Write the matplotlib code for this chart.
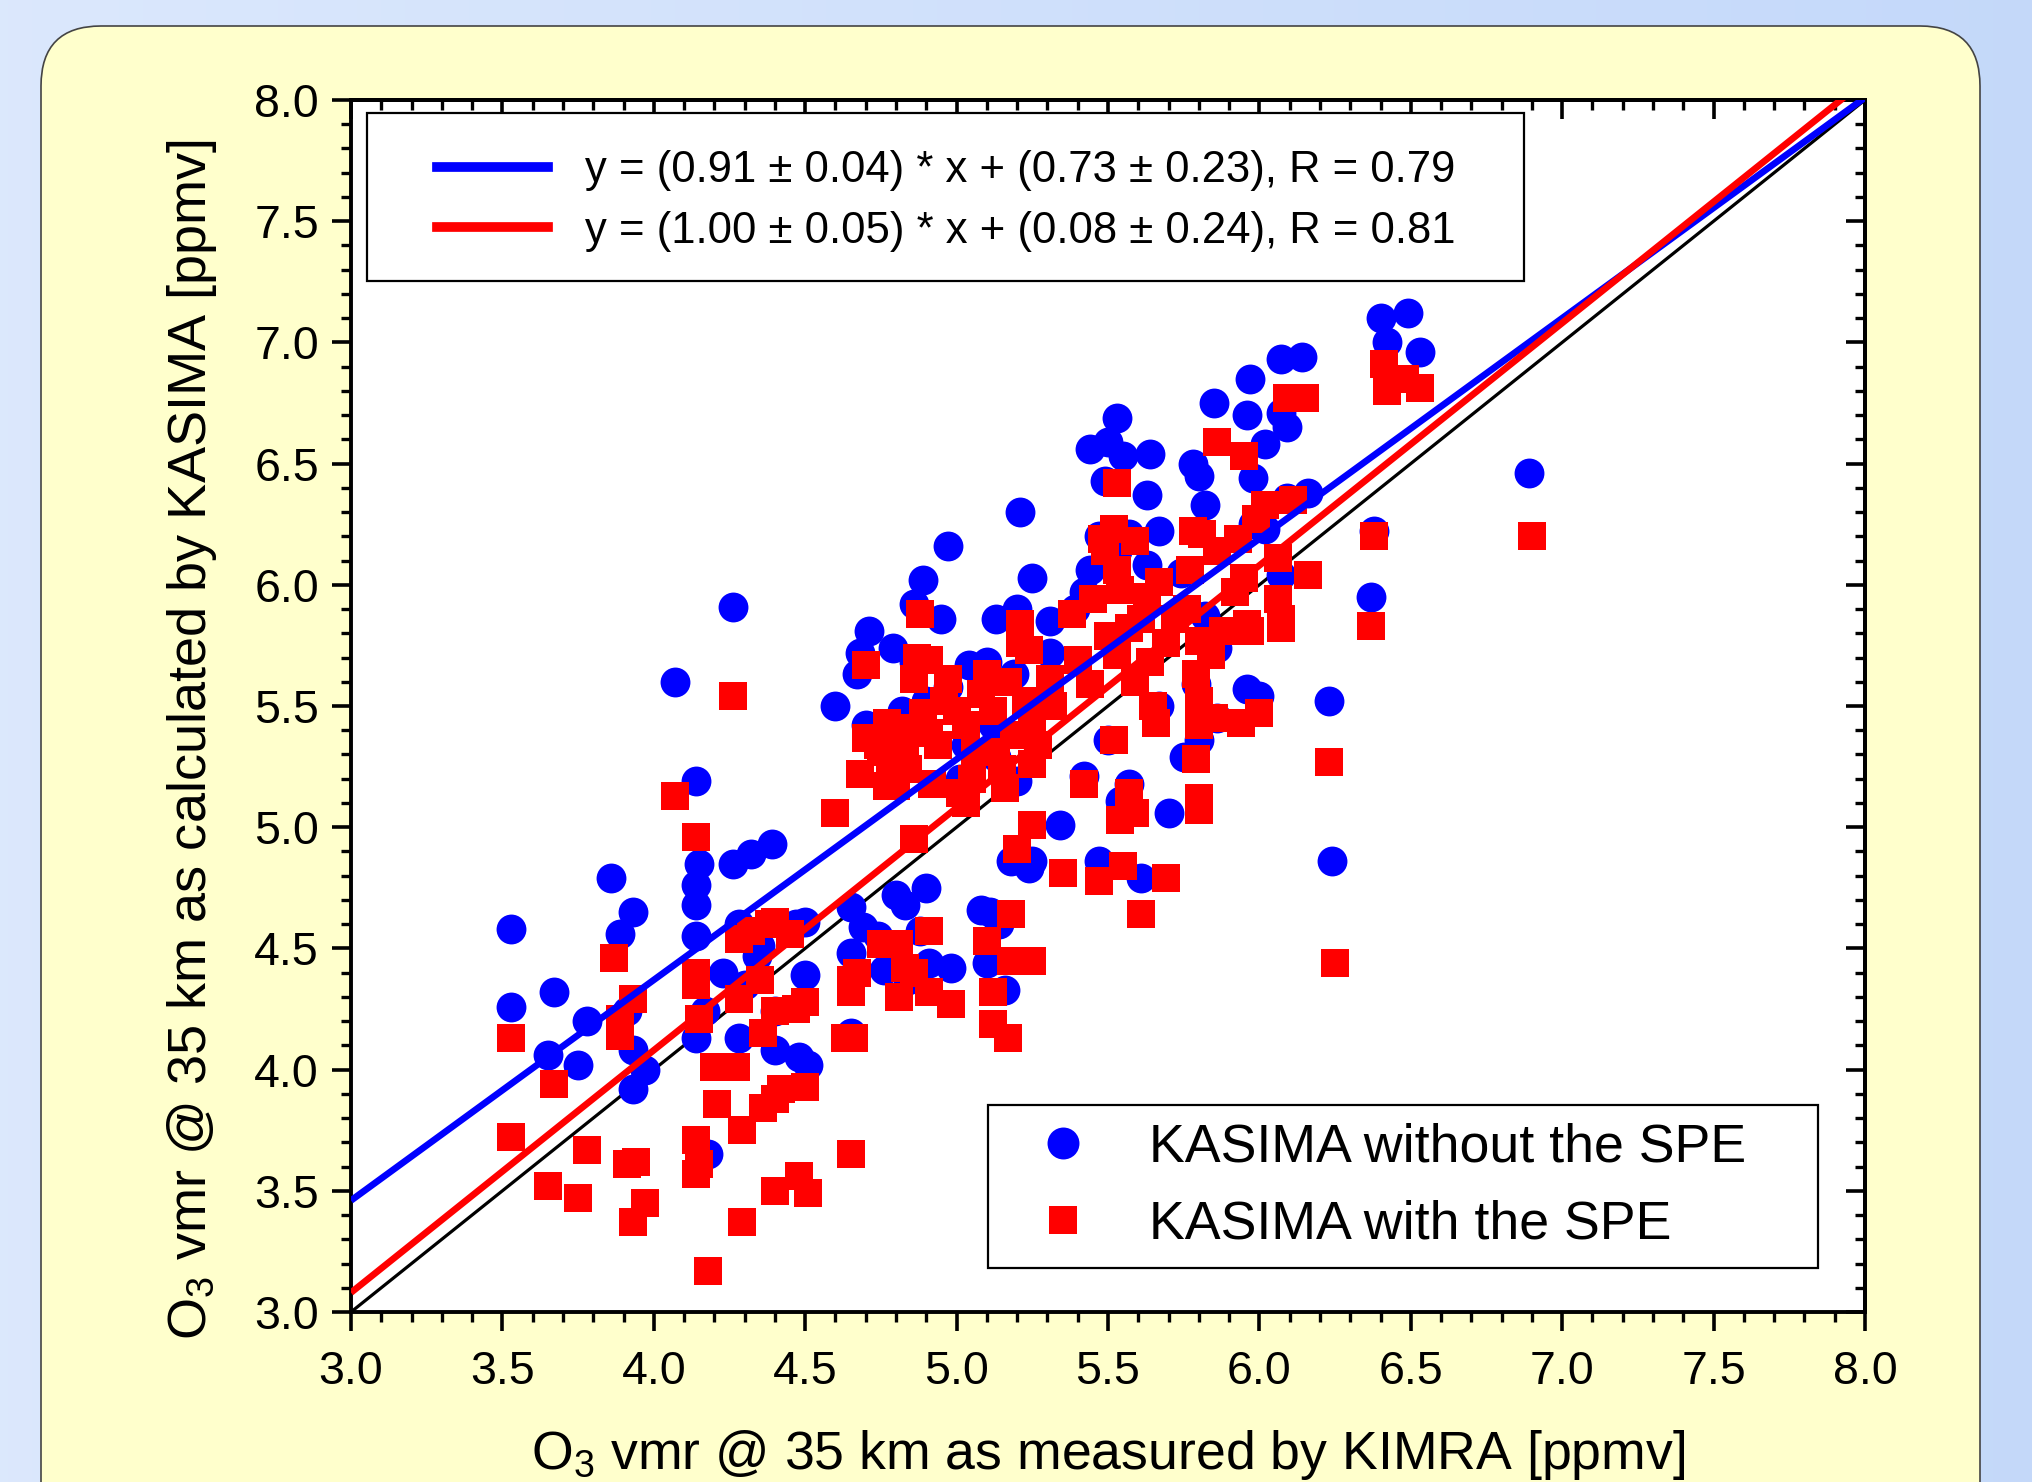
import numpy as np
import matplotlib
matplotlib.use('Agg')
import matplotlib.pyplot as plt
from matplotlib.patches import FancyBboxPatch, Rectangle
from matplotlib.lines import Line2D
from matplotlib.ticker import MultipleLocator

plt.rcParams['font.family'] = ['Liberation Sans', 'DejaVu Sans']
plt.rcParams['mathtext.fontset'] = 'custom'
plt.rcParams['mathtext.rm'] = 'Liberation Sans'

# KASIMA without the SPE (blue circles): KIMRA x, KASIMA y
no_spe_x = [3.53, 3.53, 3.67, 3.65, 3.75, 3.78, 3.86, 3.89, 3.93, 3.91, 3.93, 3.93, 3.97,
            4.07, 4.14, 4.14, 4.14, 4.15, 4.14, 4.14, 4.17, 4.18, 4.26, 4.26, 4.32, 4.39,
            4.23, 4.28, 4.30, 4.34, 4.35, 4.28, 4.40, 4.40, 4.48, 4.51, 4.50, 4.50, 4.47,
            4.60, 4.67, 4.71, 4.70, 4.68, 4.79, 4.82, 4.86, 4.89, 4.97, 4.95, 4.86, 4.90,
            4.97, 5.04, 5.10, 5.13, 5.20, 5.21, 5.25, 5.19, 5.12, 5.03, 5.01, 5.20, 4.65,
            4.65, 4.69, 4.74, 4.80, 4.83, 4.90, 4.88, 4.91, 4.98, 4.84, 4.76, 5.08, 5.11,
            5.14, 5.10, 5.16, 5.18, 5.25, 5.24, 5.13, 5.34, 4.65,
            5.31, 5.31, 5.39, 5.42, 5.44, 5.44, 5.50, 5.53, 5.55, 5.49, 5.63, 5.64, 5.47,
            5.53, 5.57, 5.67, 5.63, 5.42, 5.50, 5.57, 5.54, 5.47, 5.61, 5.67, 5.70, 5.75,
            5.80, 5.78, 5.80, 5.85, 5.82, 5.97, 5.96, 5.98, 6.02, 5.98, 6.07, 6.07, 6.09,
            6.14, 6.16, 6.09, 6.02, 6.07, 5.96, 6.00, 5.79, 5.86, 5.82, 5.74, 5.86,
            6.23, 6.24, 6.37, 6.38, 6.40, 6.42, 6.49, 6.53, 6.89]
no_spe_y = [4.58, 4.26, 4.32, 4.06, 4.02, 4.20, 4.79, 4.56, 4.65, 4.24, 4.08, 3.92, 4.00,
            5.60, 5.19, 4.68, 4.76, 4.85, 4.55, 4.13, 4.24, 3.65, 5.91, 4.85, 4.89, 4.93,
            4.40, 4.60, 4.35, 4.47, 4.51, 4.13, 4.24, 4.08, 4.05, 4.02, 4.39, 4.61, 4.60,
            5.50, 5.63, 5.81, 5.42, 5.72, 5.74, 5.48, 5.92, 6.02, 6.16, 5.86, 5.68, 5.52,
            5.58, 5.67, 5.68, 5.86, 5.90, 6.30, 6.03, 5.63, 5.42, 5.34, 5.20, 5.19, 4.48,
            4.67, 4.59, 4.55, 4.72, 4.68, 4.75, 4.57, 4.44, 4.42, 4.37, 4.41, 4.66, 4.65,
            4.60, 4.44, 4.33, 4.86, 4.86, 4.83, 5.29, 5.01, 4.15,
            5.85, 5.72, 5.90, 5.97, 6.06, 6.56, 6.59, 6.69, 6.53, 6.43, 6.37, 6.54, 6.20,
            6.14, 6.21, 6.22, 6.08, 5.21, 5.36, 5.18, 5.11, 4.86, 4.79, 5.50, 5.06, 5.29,
            5.36, 6.50, 6.45, 6.75, 6.33, 6.85, 6.70, 6.44, 6.58, 6.25, 6.93, 6.71, 6.65,
            6.94, 6.38, 6.36, 6.23, 6.04, 5.57, 5.54, 5.59, 5.74, 5.87, 6.05, 5.45,
            5.52, 4.86, 5.95, 6.22, 7.10, 7.00, 7.12, 6.96, 6.46]

# KASIMA with the SPE (red squares)
spe_x = [3.53, 3.53, 3.65, 3.67, 3.75, 3.78, 3.87, 3.89, 3.89, 3.93, 3.91, 3.93, 3.94, 3.97,
         4.07, 4.14, 4.14, 4.14, 4.15, 4.14, 4.14, 4.15, 4.18, 4.21, 4.20, 4.26, 4.27, 4.29,
         4.29, 4.28, 4.28, 4.32, 4.35, 4.36, 4.40, 4.40, 4.38, 4.36, 4.40, 4.42, 4.40, 4.45,
         4.47, 4.50, 4.50, 4.48, 4.51, 4.60, 4.65, 4.63, 4.66, 4.65, 4.65, 4.67, 4.68, 4.70,
         4.70, 4.74, 4.77, 4.75, 4.78, 4.81, 4.83, 4.77, 4.80, 4.84, 4.86, 4.88, 4.87, 4.91,
         4.89, 4.91, 4.94, 4.92, 4.97, 4.96, 5.00, 5.01, 5.03, 5.05, 5.06, 5.08, 5.12, 5.13,
         5.15, 5.16, 5.19, 5.21, 5.21, 5.24, 5.23, 5.25, 5.27, 5.25, 5.10, 5.17, 5.03, 4.86,
         4.86, 4.75, 4.81, 4.83, 4.81, 4.91, 4.91, 4.98, 4.86, 5.10, 5.12, 5.12, 5.17, 5.18,
         5.20, 5.25, 5.25, 5.18, 5.35,
         5.32, 5.31, 5.38, 5.40, 5.44, 5.48, 5.49, 5.52, 5.53, 5.59, 5.54, 5.45, 5.50, 5.53,
         5.57, 5.61, 5.63, 5.67, 5.64, 5.59, 5.53, 5.52, 5.42, 5.57, 5.59, 5.54, 5.55, 5.47,
         5.61, 5.69, 5.65, 5.66, 5.69, 5.72, 5.76, 5.78, 5.77, 5.81, 5.84, 5.86, 5.86, 5.80,
         5.79, 5.80, 5.80, 5.79, 5.80, 5.80, 5.85, 5.88, 5.92, 5.93, 5.95, 5.95, 5.96, 5.97,
         5.94, 6.00, 5.99, 6.02, 6.06, 6.06, 6.07, 6.07, 6.09, 6.15, 6.11, 6.16,
         6.23, 6.25, 6.37, 6.38, 6.41, 6.42, 6.48, 6.53, 6.90]
spe_y = [4.13, 3.72, 3.52, 3.94, 3.47, 3.67, 4.46, 4.21, 4.14, 4.29, 3.61, 3.37, 3.62, 3.45,
         5.13, 4.96, 4.40, 4.35, 4.21, 3.71, 3.57, 3.61, 3.17, 3.86, 4.01, 5.54, 4.01, 3.75,
         3.37, 4.29, 4.54, 4.57, 4.37, 4.15, 4.24, 4.61, 4.60, 3.84, 3.88, 3.92, 3.50, 4.56,
         4.25, 4.28, 3.93, 3.56, 3.49, 5.06, 3.65, 4.13, 4.13, 4.37, 4.32, 4.40, 5.22, 5.67,
         5.37, 5.34, 5.43, 5.31, 5.26, 5.36, 5.30, 5.17, 5.17, 5.24, 5.41, 5.88, 5.70, 5.69,
         5.47, 5.39, 5.34, 5.18, 5.61, 5.52, 5.48, 5.14, 5.10, 5.20, 5.31, 5.55, 5.48, 5.31,
         5.24, 5.16, 5.38, 5.76, 5.84, 5.73, 5.52, 5.43, 5.34, 5.26, 5.63, 5.60, 5.42, 5.61,
         4.95, 4.52, 4.52, 4.42, 4.30, 4.57, 4.32, 4.27, 4.40, 4.53, 4.32, 4.19, 4.13, 4.64,
         4.91, 5.01, 4.45, 4.45, 4.81,
         5.50, 5.61, 5.88, 5.69, 5.59, 6.19, 6.14, 6.23, 6.06, 6.18, 5.98, 5.94, 5.79, 5.71,
         5.82, 5.86, 5.95, 6.01, 5.68, 5.60, 6.42, 5.36, 5.18, 5.14, 5.06, 5.03, 4.84, 4.78,
         4.64, 4.79, 5.50, 5.43, 5.76, 5.86, 5.90, 6.22, 6.06, 6.21, 5.71, 6.59, 6.14, 5.77,
         5.63, 5.52, 5.42, 5.28, 5.12, 5.07, 5.45, 5.81, 5.97, 6.19, 6.53, 6.03, 5.84, 5.81,
         5.43, 5.47, 6.27, 6.33, 6.11, 5.94, 5.86, 5.82, 6.77, 6.77, 6.35, 6.04,
         5.27, 4.44, 5.83, 6.20, 6.91, 6.80, 6.85, 6.81, 6.20]

# linear fits given in the legend
fit_slope = [0.91, 1.00]
fit_offset = [0.73, 0.08]
fit_labels = [u'y = (0.91 \u00b1 0.04) * x + (0.73 \u00b1 0.23), R = 0.79',
              u'y = (1.00 \u00b1 0.05) * x + (0.08 \u00b1 0.24), R = 0.81']
series_labels = ['KASIMA without the SPE', 'KASIMA with the SPE']
line_cols = ['#0000ff', '#ff0000']

W, H = 2033, 1482
fig = plt.figure(figsize=(W / 100, H / 100), dpi=100)

# bluish background with a soft horizontal gradient
bg = fig.add_axes([0, 0, 1, 1], zorder=-10)
grad = np.linspace(0, 1, 256)[None, :]
c0 = np.array([0.86, 0.91, 0.99])
c1 = np.array([0.77, 0.85, 0.98])
img = c0[None, None, :] * (1 - grad[..., None]) + c1[None, None, :] * grad[..., None]
bg.imshow(img, aspect='auto', extent=[0, 1, 0, 1])
bg.set_axis_off()

# yellow rounded panel
panel = FancyBboxPatch((0.41, -1.0), 19.39, 15.56,
                       boxstyle='round,pad=0,rounding_size=0.6',
                       transform=fig.dpi_scale_trans,
                       facecolor='#ffffcc', edgecolor='#444444', linewidth=1.2,
                       zorder=-5)
fig.patches.append(panel)

ax = fig.add_axes([351 / W, 1 - 1312 / H, 1514 / W, 1212 / H])
ax.set_facecolor('white')
ax.set_xlim(3, 8)
ax.set_ylim(3, 8)

ax.plot([3, 8], [3, 8], color='black', lw=2.3, zorder=1)
ax.scatter(no_spe_x, no_spe_y, s=21.5 ** 2, marker='o', color='#0000ff',
           linewidths=0, zorder=2)
ax.scatter(spe_x, spe_y, s=19.5 ** 2, marker='s', color='#ff0000',
           linewidths=0, zorder=3)
xx = np.array([3, 8])
for slope, off, col in zip(fit_slope, fit_offset, line_cols):
    ax.plot(xx, slope * xx + off, color=col, lw=4.8, zorder=4, solid_capstyle='butt')

for sp in ax.spines.values():
    sp.set_linewidth(2.8)

ax.xaxis.set_major_locator(MultipleLocator(0.5))
ax.xaxis.set_minor_locator(MultipleLocator(0.1))
ax.yaxis.set_major_locator(MultipleLocator(0.5))
ax.yaxis.set_minor_locator(MultipleLocator(0.1))
ax.tick_params(which='major', direction='out', length=14, width=2.6, labelsize=33.5)
ax.tick_params(which='minor', direction='out', length=7, width=2.4)
ax.tick_params(axis='x', pad=13)
ax.tick_params(axis='y', pad=9)

# top and right axes carry inward ticks only
top = ax.secondary_xaxis('top')
right = ax.secondary_yaxis('right')
top.xaxis.set_major_locator(MultipleLocator(0.5))
top.xaxis.set_minor_locator(MultipleLocator(0.1))
right.yaxis.set_major_locator(MultipleLocator(0.5))
right.yaxis.set_minor_locator(MultipleLocator(0.1))
for sec in (top, right):
    sec.tick_params(which='major', direction='in', length=14, width=2.6,
                    labeltop=False, labelright=False)
    sec.tick_params(which='minor', direction='in', length=7, width=2.4)
    for sp in sec.spines.values():
        sp.set_linewidth(2.8)

fig.text(1108 / W, 1 - 1455 / H, r'O$_{\mathregular{3}}$ vmr @ 35 km as measured by KIMRA [ppmv]',
         ha='center', va='center', fontsize=38.6)
fig.text(192 / W, 1 - 739 / H, r'O$_{\mathregular{3}}$ vmr @ 35 km as calculated by KASIMA [ppmv]',
         ha='center', va='center', rotation=90, fontsize=39)

# legend for the fit lines
ax.add_patch(Rectangle((0.0106, 0.851), 0.775 - 0.0106, 0.989 - 0.851,
                       transform=ax.transAxes, facecolor='white', edgecolor='black',
                       linewidth=1.6, zorder=5))
fit_handles = [Line2D([], [], color=c, lw=7) for c in line_cols]
leg1 = ax.legend(fit_handles, fit_labels, loc='center left',
                 bbox_to_anchor=(0.0568, 0.9168), frameon=False, fontsize=31.4,
                 borderpad=0, borderaxespad=0, handlelength=2.55, handletextpad=0.85,
                 labelspacing=0.45)
leg1.set_zorder(6)
ax.add_artist(leg1)

# legend for the two model runs
ax.add_patch(Rectangle((0.421, 0.036), 0.969 - 0.421, 0.171 - 0.036,
                       transform=ax.transAxes, facecolor='white', edgecolor='black',
                       linewidth=1.6, zorder=5))
mk_handles = [Line2D([], [], ls='none', marker='o', ms=23, color='#0000ff', mew=0),
              Line2D([], [], ls='none', marker='s', ms=20, color='#ff0000', mew=0)]
leg2 = ax.legend(mk_handles, series_labels, loc='center left',
                 bbox_to_anchor=(0.4528, 0.104), frameon=False, fontsize=38.7,
                 borderpad=0, borderaxespad=0, handlelength=1.0, handletextpad=1.1,
                 labelspacing=0.5)
leg2.set_zorder(6)

fig.savefig('out.png', dpi=100)
